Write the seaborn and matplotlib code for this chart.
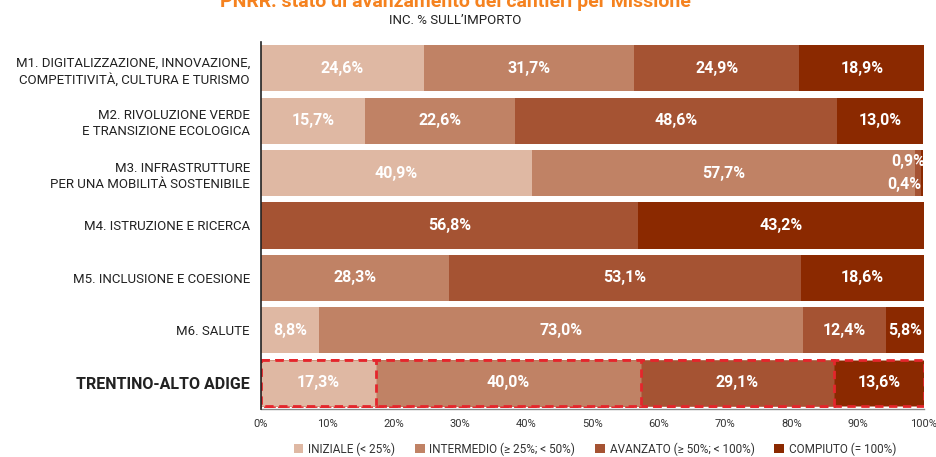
import numpy as np
import pandas as pd
import matplotlib
matplotlib.use("Agg")
import matplotlib.pyplot as plt
import seaborn as sns
from matplotlib.patches import Patch

# Categories (missions + regional total)
missions = [
    "M1. DIGITALIZZAZIONE, INNOVAZIONE,\nCOMPETITIVITÀ, CULTURA E TURISMO",
    "M2. RIVOLUZIONE VERDE\nE TRANSIZIONE ECOLOGICA",
    "M3. INFRASTRUTTURE\nPER UNA MOBILITÀ SOSTENIBILE",
    "M4. ISTRUZIONE E RICERCA",
    "M5. INCLUSIONE E COESIONE",
    "M6. SALUTE",
    "TRENTINO-ALTO ADIGE",
]

# Share of amount (%) by progress stage
iniziale   = [24.6, 15.7, 40.9, 0.0, 0.0, 8.8, 17.3]
intermedio = [31.7, 22.6, 57.7, 0.0, 28.3, 73.0, 40.0]
avanzato   = [24.9, 48.6, 0.9, 56.8, 53.1, 12.4, 29.1]
compiuto   = [18.9, 13.0, 0.4, 43.2, 18.6, 5.8, 13.6]

stages = ["INIZIALE (< 25%)", "INTERMEDIO (≥ 25%; < 50%)",
          "AVANZATO (≥ 50%; < 100%)", "COMPIUTO (= 100%)"]
colors = ["#dfb8a3", "#c08265", "#a55333", "#8b2900"]

plt.rcParams["font.family"] = ["Roboto", "DejaVu Sans"]

values = np.array([iniziale, intermedio, avanzato, compiuto])
cum = np.cumsum(values, axis=0)

fig = plt.figure(figsize=(9.37, 4.57), dpi=100)
ax = fig.add_axes([261 / 937, 1 - 409 / 457, 663 / 937, 367 / 457])

df = pd.DataFrame({"cat": missions})
# Draw cumulative totals from the widest layer down so each stage shows as a segment
for i in range(3, -1, -1):
    df["v"] = cum[i]
    sns.barplot(data=df, x="v", y="cat", color=colors[i], width=0.88,
                saturation=1, ax=ax, orient="h", zorder=2 + (3 - i))

# Dashed red outline on the regional row
n = len(missions)
for p in ax.patches:
    cy = p.get_y() + p.get_height() / 2
    if abs(cy - (n - 1)) < 0.01 and p.get_width() > 0:
        p.set_edgecolor("#e4262c")
        p.set_linewidth(2)
        p.set_linestyle((0, (3, 2)))

lab_kw = dict(color="white", fontsize=11.5, fontweight="bold", zorder=10)

# Segment labels
for j in range(n):
    for i in range(4):
        v = values[i, j]
        if v < 2:
            continue
        start = cum[i, j] - v
        ax.text(start + v / 2, j, f"{v:.1f}%".replace(".", ","),
                ha="center", va="center", **lab_kw)
# Tiny segments on M3 labelled at the bar end
ax.text(100.2, 2 - 0.23, f"{avanzato[2]:.1f}%".replace(".", ","), ha="right",
        va="center", **lab_kw)
ax.text(99.6, 2 + 0.21, f"{compiuto[2]:.1f}%".replace(".", ","), ha="right",
        va="center", **lab_kw)

ax.set_xlim(0, 100)
ax.set_ylim(n - 0.5, -0.5)
ax.set_xticks(np.arange(0, 101, 10))
ax.set_xticklabels([f"{t}%" for t in range(0, 101, 10)], fontsize=8, color="#333333")
ax.tick_params(axis="both", length=0)
ax.tick_params(axis="y", pad=8)
ax.tick_params(axis="x", pad=7)
for lbl in ax.get_yticklabels():
    lbl.set_fontsize(9.5)
    lbl.set_color("#222222")
    lbl.set_linespacing(1.3)
ylabels = ax.get_yticklabels()
ylabels[-1].set_fontweight("bold")
ylabels[-1].set_fontsize(11.5)
ax.set_xlabel("")
ax.set_ylabel("")
for s in ["top", "right"]:
    ax.spines[s].set_visible(False)
ax.spines["left"].set_color("#222222")
ax.spines["left"].set_linewidth(1.2)
ax.spines["bottom"].set_color("#888888")
ax.spines["bottom"].set_linewidth(1)
ax.spines["left"].set_zorder(12)

fig.text(455 / 937, 1 - 2 / 457, "PNRR: stato di avanzamento dei cantieri per Missione",
         ha="center", va="center", color="#f5821f", fontsize=14, fontweight="bold")
fig.text(455 / 937, 1 - 20 / 457, "INC. % SULL’IMPORTO", ha="center", va="center",
         color="#222222", fontsize=9.5)

handles = [Patch(facecolor=c, label=s) for c, s in zip(colors, stages)]
fig.legend(handles=handles, loc="center", bbox_to_anchor=(595 / 937, 1 - 449 / 457),
           ncol=4, frameon=False, fontsize=8.5, handlelength=0.8, handleheight=0.8,
           handletextpad=0.4, columnspacing=1.7, labelcolor="#333333")

fig.savefig("out.png", dpi=100)
